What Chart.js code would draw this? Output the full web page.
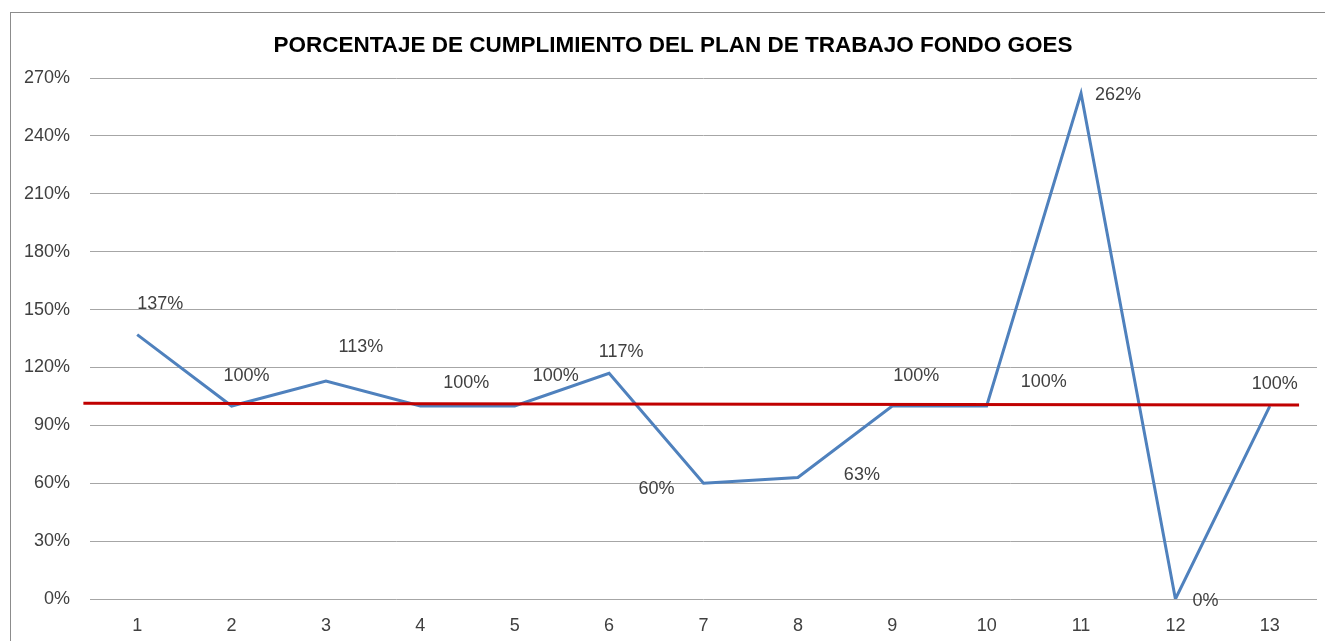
<!DOCTYPE html>
<html>
<head>
<meta charset="utf-8">
<script src="https://cdn.jsdelivr.net/npm/chart.js@4/dist/chart.umd.min.js"></script>
<style>
    html, body { margin: 0; padding: 0; background: #fff; }
    #marco {
        position: absolute; left: 10px; top: 12px; width: 1340px; height: 660px;
        border-left: 1px solid #8c8c8c; border-top: 1px solid #8c8c8c;
    }
    #wrap { position: absolute; left: 0; top: 0; width: 1325px; height: 641px; }
</style>
</head>
<body>
<div id="marco"></div>
<div id="wrap"><canvas id="grafico"></canvas></div>
<script>
// ===================== DATOS =====================
const titulo       = "PORCENTAJE DE CUMPLIMIENTO DEL PLAN DE TRABAJO FONDO GOES";
const categorias   = ["1", "2", "3", "4", "5", "6", "7", "8", "9", "10", "11", "12", "13"];
const cumplimiento = [137, 100, 113, 100, 100, 117, 60, 63, 100, 100, 262, 0, 100];

// línea roja de meta (dibujada a mano en el original, algo inclinada)
const metaX = [0.43, 13.31];
const metaY = [101.5, 100.5];

const ejeMin  = 0;
const ejeMax  = 270;
const ejePaso = 30;

// desplazamiento de cada etiqueta respecto a su punto (px)
const offsetsEtiq = [
    [23, -31], [15, -30], [35, -34], [46, -23], [41, -30], [12, -21], [-47, 6],
    [64, -2], [24, -30], [57, -24], [37, 2], [30, 2], [5, -22],
];

// ===================== COLORES =====================
const COR_AZUL  = "#4f81bd";
const COR_ROJO  = "#c00000";
const COR_GRID  = "#a6a6a6";
const COR_TEXTO = "#404040";
const FUENTE    = "'Liberation Sans', Arial, sans-serif";

// título + etiquetas de datos
const textosPlugin = {
    id: "textos",
    afterDraw(chart) {
        const ctx = chart.ctx;
        ctx.save();
        ctx.font = `bold 22.5px ${FUENTE}`;
        ctx.fillStyle = "#000";
        ctx.textAlign = "center";
        ctx.textBaseline = "middle";
        ctx.fillText(titulo, 673, 46);
        ctx.restore();
    },
    afterDatasetsDraw(chart) {
        const meta = chart.getDatasetMeta(0);
        const ctx  = chart.ctx;
        ctx.save();
        ctx.font = `18px ${FUENTE}`;
        ctx.fillStyle = COR_TEXTO;
        ctx.textAlign = "center";
        ctx.textBaseline = "middle";
        meta.data.forEach((p, i) => {
            const [dx, dy] = offsetsEtiq[i];
            ctx.fillText(cumplimiento[i] + "%", p.x + dx, p.y + dy);
        });
        ctx.restore();
    }
};

Chart.defaults.font.family = FUENTE;
Chart.defaults.color = COR_TEXTO;

new Chart(document.getElementById("grafico"), {
    type: "line",
    data: {
        labels: categorias,
        datasets: [
            {
                label: "Cumplimiento",
                data: cumplimiento,
                borderColor: COR_AZUL,
                borderWidth: 3,
                pointRadius: 0,
                tension: 0,
                fill: false,
                order: 2,
            },
            {
                label: "Meta",
                data: metaX.map((x, i) => ({ x, y: metaY[i] })),
                xAxisID: "x2",
                borderColor: COR_ROJO,
                borderWidth: 3,
                pointRadius: 0,
                fill: false,
                clip: false,
                order: 1,
            },
        ],
    },
    options: {
        responsive: true,
        maintainAspectRatio: false,
        animation: false,
        layout: { padding: { left: 0, right: 8, top: 78, bottom: 0 } },
        plugins: {
            legend: { display: false },
            tooltip: { enabled: false },
            title: { display: false },
        },
        scales: {
            x: {
                type: "category",
                offset: true,
                grid: { display: false, drawTicks: false },
                border: { display: false },
                ticks: { font: { size: 18 }, padding: 16, color: COR_TEXTO },
                afterFit: s => { s.height = 42; },
            },
            x2: {
                type: "linear",
                display: false,
                min: 0.5,
                max: 13.5,
            },
            y: {
                min: ejeMin,
                max: ejeMax,
                grid: { color: COR_GRID, lineWidth: 1, drawTicks: false },
                border: { display: false },
                ticks: {
                    stepSize: ejePaso,
                    padding: 20,
                    font: { size: 18 },
                    color: COR_TEXTO,
                    callback: v => v + "%",
                },
                afterFit: s => { s.width = 90; },
            },
        },
    },
    plugins: [textosPlugin],
});
</script>
</body>
</html>
